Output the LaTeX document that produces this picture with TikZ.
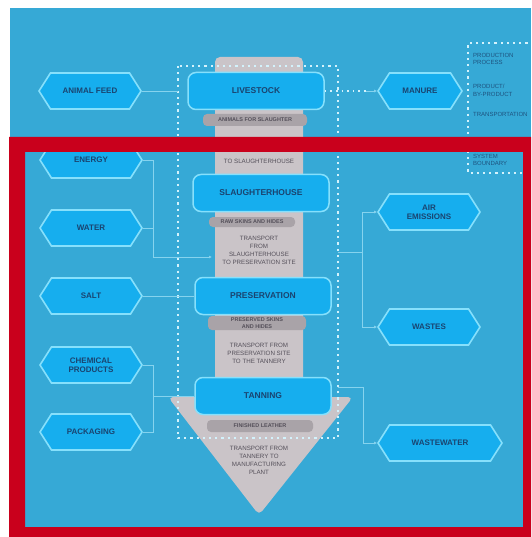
\documentclass[tikz,border=0pt]{standalone}
\usepackage{fontspec}
\setmainfont{Liberation Sans}
\usetikzlibrary{shapes.symbols,arrows.meta}
\definecolor{bgblue}{HTML}{36A9D6}
\definecolor{boxfill}{HTML}{16AEEE}
\definecolor{boxedge}{HTML}{86E0FC}
\definecolor{navy}{HTML}{1A4470}
\definecolor{dotcol}{HTML}{D3F2FC}
\definecolor{linkcol}{HTML}{86D3EE}
\definecolor{colgray}{HTML}{CAC4C8}
\definecolor{bargray}{HTML}{A9A3A8}
\definecolor{graytext}{HTML}{55505A}
\definecolor{framered}{HTML}{C9001C}
\tikzset{
  hexbox/.style={signal, signal to=east and west, signal pointer angle=115,
    draw=boxedge, line width=1.6pt, fill=boxfill, minimum height=36pt,
    minimum width=102pt, inner sep=1pt, text=navy, align=center,
    font=\bfseries\fontsize{8}{9}\selectfont},
  procbox/.style={rectangle, rounded corners=8pt, draw=boxedge, line width=1.5pt,
    fill=boxfill, minimum width=136pt, minimum height=37pt, text=navy,
    font=\bfseries\fontsize{8.5}{10}\selectfont},
  prodbar/.style={rectangle, rounded corners=4pt, fill=bargray, minimum height=12pt,
    inner sep=1pt, text=graytext, align=center,
    font=\bfseries\fontsize{5.5}{6.5}\selectfont},
  coltext/.style={text=graytext, align=center, inner sep=0pt,
    font=\fontsize{6.2}{8}\selectfont},
  legtext/.style={text=navy!85!bgblue, align=left, inner sep=0pt,
    font=\fontsize{6}{7.5}\selectfont},
  link/.style={draw=linkcol, line width=0.7pt},
  linkarrow/.style={link, -{Latex[length=3pt,width=3pt]}},
  dotline/.style={draw=dotcol, line width=2.2pt, dash pattern=on 2.2pt off 4pt},
}
\begin{document}
\begin{tikzpicture}[x=1pt,y=-1pt]
\useasboundingbox (0,0) rectangle (531,537);
\fill[white] (0,0) rectangle (531,537);
\fill[bgblue] (10,8) rectangle (531,537);

% grey flow arrow of the supply chain
\fill[colgray, rounded corners=5pt]
  (215,57) -- (303,57) -- (303,397) -- (353,397) -- (259,515)
  -- (168,397) -- (215,397) -- cycle;

% system boundary
\draw[dotline] (178,66) rectangle (338,438);

% products between the stages
\node[prodbar, minimum width=104pt] (p1) at (255,120) {ANIMALS FOR SLAUGHTER};
\node[prodbar, minimum width=86pt, minimum height=10pt] (p2) at (252,222) {RAW SKINS AND HIDES};
\node[prodbar, minimum width=98pt, minimum height=14pt] (p3) at (257,323) {PRESERVED SKINS\\AND HIDES};
\node[prodbar, minimum width=106pt] (p4) at (260,426) {FINISHED LEATHER};

% transport steps
\node[coltext] (t1) at (259,154) {TRANSPORT FROM FARM\\[7pt]TO SLAUGHTERHOUSE};
\node[coltext] (t2) at (259,250) {TRANSPORT\\FROM\\SLAUGHTERHOUSE\\TO PRESERVATION SITE};
\node[coltext] (t3) at (259,353) {TRANSPORT FROM\\PRESERVATION SITE\\TO THE TANNERY};
\node[coltext] (t4) at (259,460) {TRANSPORT FROM\\TANNERY TO\\MANUFACTURING\\PLANT};

% production stages
\node[procbox] (live) at (256,91) {LIVESTOCK};
\node[procbox] (slau) at (261,193) {SLAUGHTERHOUSE};
\node[procbox] (pres) at (263,296) {PRESERVATION};
\node[procbox] (tann) at (263,396) {TANNING};

% inputs
\node[hexbox] (feed) at (90,91) {ANIMAL FEED};
\node[hexbox] (energy) at (91,160) {ENERGY};
\node[hexbox] (water) at (91,228) {WATER};
\node[hexbox] (salt) at (91,296) {SALT};
\node[hexbox] (chem) at (91,365) {CHEMICAL\\PRODUCTS};
\node[hexbox] (pack) at (91,432) {PACKAGING};

% outputs
\node[hexbox, minimum width=84pt] (manure) at (420,91) {MANURE};
\node[hexbox] (air) at (429,212) {AIR\\EMISSIONS};
\node[hexbox] (wastes) at (429,327) {WASTES};
\node[hexbox, minimum width=124pt] (wwater) at (440,443) {WASTEWATER};

% connectors on the input side
\coordinate (bl1) at (153,257);
\coordinate (bl2) at (153,396);
\draw[link] (feed.east) -- (178,91);
\draw[link] (energy.east) -- (153,160) -- (bl1);
\draw[link] (water.east) -- (153,228);
\draw[linkarrow] (bl1) -- (212,257);
\draw[link] (salt.east) -- (pres.west);
\draw[link] (chem.east) -- (153,365) -- (153,432) -- (pack.east);
\draw[link] (bl2) -- (tann.west);

% connectors on the output side
\draw[dotline, line width=1.6pt, dash pattern=on 1.6pt off 4pt] (live.east) -- (366,91);
\draw[linkarrow] (366,91) -- (manure.west);
\coordinate (br1) at (362,252);
\coordinate (br2) at (363,387);
\draw[link] (338,252) -- (br1);
\draw[linkarrow] (362,212) -- (air.west);
\draw[link] (362,212) -- (362,327);
\draw[linkarrow] (362,327) -- (wastes.west);
\draw[link] (338,387) -- (br2) -- (363,443);
\draw[linkarrow] (363,443) -- (wwater.west);

% key
\draw[dotline] (540,43) -- (468,43) -- (468,173) -- (540,173);
\node[legtext, anchor=north west] (k1) at (473,53) {PRODUCTION\\PROCESS};
\node[legtext, anchor=north west] (k2) at (473,84) {PRODUCT/\\BY-PRODUCT};
\node[legtext, anchor=north west] (k3) at (473,112) {TRANSPORTATION};
\node[legtext, anchor=north west] (k4) at (473,154) {SYSTEM\\BOUNDARY};

% red frame
\fill[framered, even odd rule] (9,137) rectangle (531,537) (25,152) rectangle (523,527);
\end{tikzpicture}
\end{document}
